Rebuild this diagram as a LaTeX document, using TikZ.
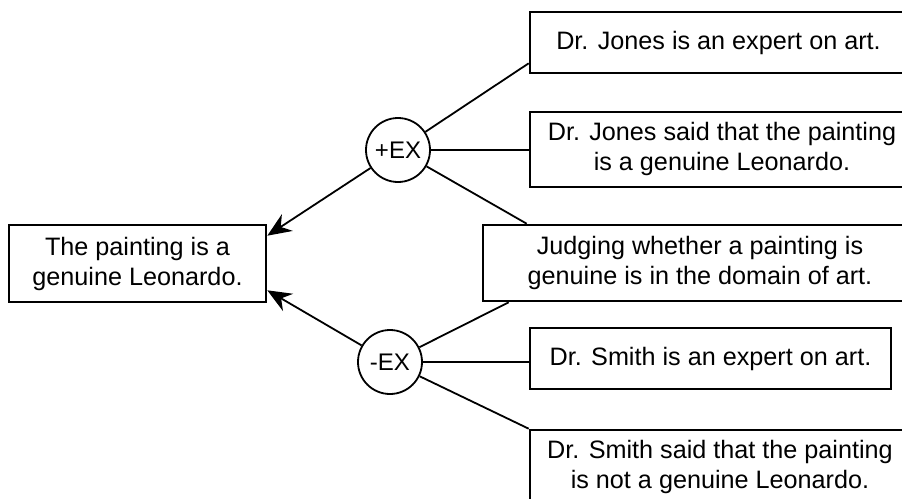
\documentclass[tikz,border=0pt]{standalone}
\usepackage{fontspec}
\setmainfont{Liberation Sans}
\usetikzlibrary{arrows.meta}
\begin{document}
\begin{tikzpicture}[x=0.5pt,y=-0.5pt,
  claim/.style={draw,line width=1.3pt,align=center,inner sep=0pt,font=\fontsize{12.6}{15}\selectfont},
  scheme/.style={draw,circle,line width=0.9pt,minimum size=32pt,inner sep=0pt,font=\fontsize{12}{14}\selectfont},
  link/.style={line width=0.9pt},
  arrow/.style={line width=0.9pt,-{Stealth[length=12pt,width=10pt,inset=4pt]}}]
\useasboundingbox (0,0) rectangle (902,499);
\node[claim,minimum width=128.5pt,minimum height=38.5pt] (leo) at (137.5,263.5) {The painting is a\\genuine Leonardo.};
\node[scheme] (plus) at (398,150) {+EX};
\node[scheme] (minus) at (390,362) {-EX};
% boxes cut by the right edge: text pushed left with padding
\node[claim,minimum width=210pt,minimum height=30.5pt] (jones) at (740,42.5) {Dr. Jones is an expert on art.\hspace{21.5pt}};
\node[claim,minimum width=210pt,minimum height=37.5pt] (said) at (740,149.5) {\begin{tabular}{@{}c@{}}Dr. Jones said that the painting\\is a genuine Leonardo.\end{tabular}\hspace{18pt}};
\node[claim,minimum width=233.5pt,minimum height=38pt] (domain) at (716.5,263) {\begin{tabular}{@{}c@{}}Judging whether a painting is\\genuine is in the domain of art.\end{tabular}\hspace{16.5pt}};
\node[claim,minimum width=180.5pt,minimum height=30.5pt] (smith) at (710.5,358.5) {Dr. Smith is an expert on art.};
\node[claim,minimum width=210pt,minimum height=50pt] (denied) at (740,480) {\begin{tabular}{@{}c@{}}Dr. Smith said that the painting\\is not a genuine Leonardo.\end{tabular}\hspace{20pt}\rule[-25pt]{0pt}{0pt}};
\draw[arrow] (plus) -- ([yshift=-6pt]leo.north east);
\draw[arrow] (minus) -- ([yshift=6.5pt]leo.south east);
\draw[link] (plus) -- ([yshift=5.5pt]jones.south west);
\draw[link] (plus.east) -- (plus.east -| said.west);
\draw[link] (plus) -- ([xshift=22.5pt]domain.north west);
\draw[link] (minus) -- ([xshift=13.5pt]domain.south west);
\draw[link] (minus.east) -- (minus.east -| smith.west);
\draw[link] (minus) -- (denied.north west);
\end{tikzpicture}
\end{document}
